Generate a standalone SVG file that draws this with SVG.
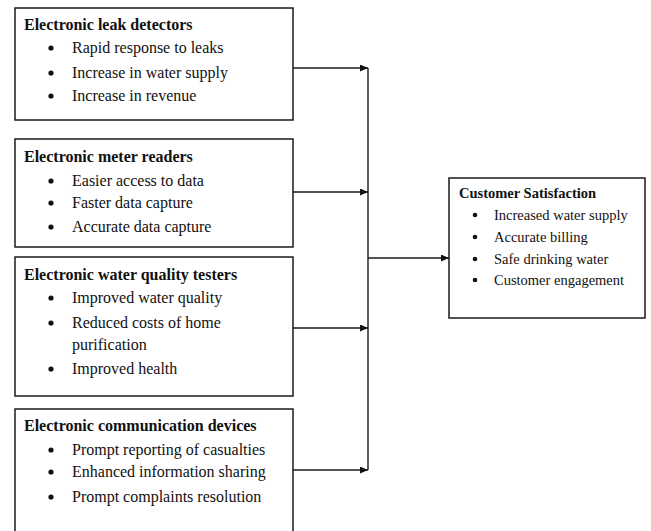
<svg xmlns="http://www.w3.org/2000/svg" width="651" height="531" viewBox="0 0 651 531">
<defs>
<style>
.box{fill:#fff;stroke:#1a1a1a;stroke-width:1.5}
.t{font-family:"Liberation Serif","Times New Roman",serif;font-size:16px;fill:#111}
.h{font-weight:bold}
.r{font-family:"Liberation Serif","Times New Roman",serif;font-size:14.5px;fill:#111}
.b{fill:#111}
.c{fill:none;stroke:#1a1a1a;stroke-width:1.4}
</style>
<marker id="ah" markerWidth="8" markerHeight="7" refX="8" refY="3.5" orient="auto" markerUnits="userSpaceOnUse">
<path d="M0,0 L8,3.5 L0,7 Z" fill="#111"/>
</marker>
</defs>
<rect width="651" height="531" fill="#fff"/>
<g id="connectors">
<path class="c" d="M293,68 H368" marker-end="url(#ah)"/>
<path class="c" d="M293,192 H368" marker-end="url(#ah)"/>
<path class="c" d="M293,328 H368" marker-end="url(#ah)"/>
<path class="c" d="M293,470 H368" marker-end="url(#ah)"/>
<path class="c" d="M368,68 V470"/>
<path class="c" d="M368,258 H449" marker-end="url(#ah)"/>
</g>
<g id="leak">
<rect class="box" x="15" y="8" width="278" height="112"/>
<text class="t h" x="24" y="30">Electronic leak detectors</text>
<circle class="b" cx="51" cy="48" r="2.6"/><text class="t" x="72" y="53">Rapid response to leaks</text>
<circle class="b" cx="51" cy="73" r="2.6"/><text class="t" x="72" y="78">Increase in water supply</text>
<circle class="b" cx="51" cy="96" r="2.6"/><text class="t" x="72" y="101">Increase in revenue</text>
</g>
<g id="meter">
<rect class="box" x="15" y="139" width="278" height="108"/>
<text class="t h" x="24" y="162">Electronic meter readers</text>
<circle class="b" cx="51" cy="181" r="2.6"/><text class="t" x="72" y="186">Easier access to data</text>
<circle class="b" cx="51" cy="203" r="2.6"/><text class="t" x="72" y="208">Faster data capture</text>
<circle class="b" cx="51" cy="227" r="2.6"/><text class="t" x="72" y="232">Accurate data capture</text>
</g>
<g id="quality">
<rect class="box" x="15" y="257" width="278" height="139"/>
<text class="t h" x="24" y="280">Electronic water quality testers</text>
<circle class="b" cx="51" cy="298" r="2.6"/><text class="t" x="72" y="303">Improved water quality</text>
<circle class="b" cx="51" cy="323" r="2.6"/><text class="t" x="72" y="328">Reduced costs of home</text>
<text class="t" x="72" y="350">purification</text>
<circle class="b" cx="51" cy="369" r="2.6"/><text class="t" x="72" y="374">Improved health</text>
</g>
<g id="communication">
<rect class="box" x="15" y="409" width="278" height="140"/>
<text class="t h" x="24" y="431">Electronic communication devices</text>
<circle class="b" cx="51" cy="450" r="2.6"/><text class="t" x="72" y="455">Prompt reporting of casualties</text>
<circle class="b" cx="51" cy="472" r="2.6"/><text class="t" x="72" y="477">Enhanced information sharing</text>
<circle class="b" cx="51" cy="497" r="2.6"/><text class="t" x="72" y="502">Prompt complaints resolution</text>
</g>
<g id="satisfaction">
<rect class="box" x="449" y="178" width="196" height="140"/>
<text class="r h" x="459" y="198">Customer Satisfaction</text>
<circle class="b" cx="475" cy="215" r="2.3"/><text class="r" x="494" y="220">Increased water supply</text>
<circle class="b" cx="475" cy="237" r="2.3"/><text class="r" x="494" y="242">Accurate billing</text>
<circle class="b" cx="475" cy="259" r="2.3"/><text class="r" x="494" y="264">Safe drinking water</text>
<circle class="b" cx="475" cy="280" r="2.3"/><text class="r" x="494" y="285">Customer engagement</text>
</g>
</svg>
